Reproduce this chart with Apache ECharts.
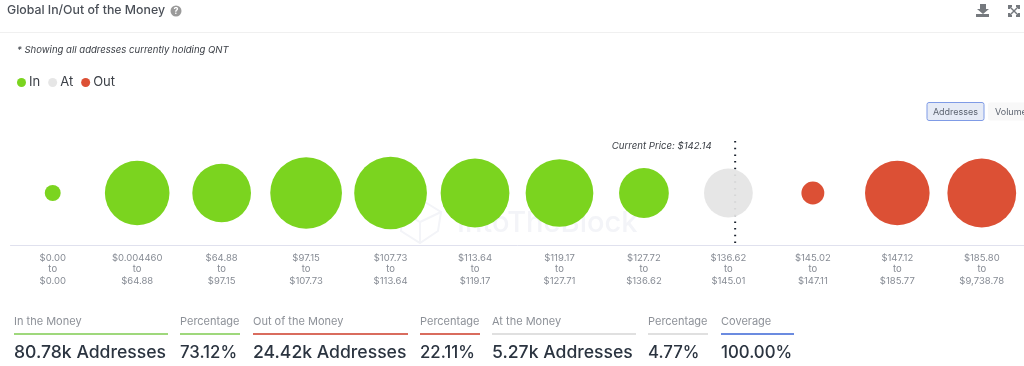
<!DOCTYPE html>
<html><head><meta charset="utf-8">
<style>html,body{margin:0;padding:0;background:#fff}#c{width:1024px;height:366px}</style>
<script src="https://cdn.jsdelivr.net/npm/echarts@6/dist/echarts.min.js"></script></head>
<body><div id="c"></div>
<script>
const rangeLow = ['$0.00','$0.004460','$64.88','$97.15','$107.73','$113.64','$119.17','$127.72','$136.62','$145.02','$147.12','$185.80'];
const rangeHigh = ['$0.00','$64.88','$97.15','$107.73','$113.64','$119.17','$127.71','$136.62','$145.01','$147.11','$185.77','$9,738.78'];
// estimated thousands of addresses per price bucket (null = not in that group)
const inValues = [0.68,11.2,9.25,13.8,14.2,12.7,12.3,6.65,null,null,null,null];
const atValues = [null,null,null,null,null,null,null,null,6.39,null,null,null];
const outValues = [null,null,null,null,null,null,null,null,null,1.41,11.2,12.7];
const currentPricePosition = 8.58;
const currentPriceLabel = 'Current Price: $142.14';
const statLabels = ['In the Money','Percentage','Out of the Money','Percentage','At the Money','Percentage','Coverage'];
const statValues = ['80.78k Addresses','73.12%','24.42k Addresses','22.11%','5.27k Addresses','4.77%','100.00%'];

const FONT = 'Inter, "Noto Sans", sans-serif';
const categories = rangeLow.map((l,i)=>l+'\nto\n'+rangeHigh[i]);
const statX = [14,180,253,420,492,648,721];
const statW = [154,60,155,60,144,60,73];
const statC = ['#9fd87c','#9fd87c','#d96c5e','#d96c5e','#e0e0e0','#e0e0e0','#6b8be0'];
const toPts = a => a.map((v,i)=> v==null ? null : [i,1,v]).filter(Boolean);
const sizeFn = d => Math.sqrt(d[2])*19.3;
const bubble = (name,vals,color,z) => ({name,type:'scatter',xAxisIndex:0,yAxisIndex:0,data:toPts(vals),
  symbolSize:sizeFn,z,itemStyle:{color,opacity:1},emphasis:{disabled:true}});
const WM = '#f3f4f8';
const graphic = [
  {type:'text',x:7,y:10,style:{text:'Global In/Out of the Money',font:'500 12.3px '+FONT,fill:'#4a4f57',verticalAlign:'middle'}},
  {type:'circle',shape:{cx:176,cy:11,r:5.5},style:{fill:'#9a9a9a'}},
  {type:'text',x:176,y:11,style:{text:'?',font:'bold 9px '+FONT,fill:'#fff',align:'center',verticalAlign:'middle'}},
  {type:'line',shape:{x1:0,y1:32.5,x2:1024,y2:32.5},style:{stroke:'#f0f0f0',lineWidth:1}},
  {type:'polygon',shape:{points:[[980,4],[986,4],[986,9],[989,9],[983,14],[977,9],[980,9]]},style:{fill:'#75797e'}},
  {type:'rect',shape:{x:976,y:14,width:13,height:3},style:{fill:'#75797e'}},
  {type:'polyline',shape:{points:[[1009,9],[1009,6],[1012,6]]},style:{stroke:'#75797e',lineWidth:2,fill:null}},
  {type:'polyline',shape:{points:[[1016,6],[1019,6],[1019,9]]},style:{stroke:'#75797e',lineWidth:2,fill:null}},
  {type:'polyline',shape:{points:[[1009,13],[1009,16],[1012,16]]},style:{stroke:'#75797e',lineWidth:2,fill:null}},
  {type:'polyline',shape:{points:[[1016,16],[1019,16],[1019,13]]},style:{stroke:'#75797e',lineWidth:2,fill:null}},
  {type:'line',shape:{x1:1010,y1:7,x2:1018,y2:15},style:{stroke:'#75797e',lineWidth:1.5}},
  {type:'line',shape:{x1:1018,y1:7,x2:1010,y2:15},style:{stroke:'#75797e',lineWidth:1.5}},
  {type:'text',x:17,y:50.5,style:{text:'* Showing all addresses currently holding QNT',font:'italic 9.55px '+FONT,fill:'#3c4047',verticalAlign:'middle'}},
  {type:'rect',shape:{x:927,y:102.5,width:57,height:18,r:2},style:{fill:'#e6ebf6',stroke:'#7f9be6',lineWidth:1}},
  {type:'text',x:955.5,y:112,style:{text:'Addresses',font:'9px '+FONT,fill:'#5d6470',align:'center',verticalAlign:'middle'}},
  {type:'rect',shape:{x:988,y:102.5,width:50,height:18,r:2},style:{fill:'#f8f8f8'}},
  {type:'text',x:995,y:112,style:{text:'Volume',font:'9px '+FONT,fill:'#5d6470',verticalAlign:'middle'}},
  {type:'text',z:-1,x:457,y:223,style:{text:'IntoTheBlock',font:'500 29px '+FONT,fill:WM,verticalAlign:'middle'}},
  {type:'polygon',z:-1,shape:{points:[[420,199],[441,212],[438,231],[420,243],[401,231],[403,212]]},style:{fill:null,stroke:WM,lineWidth:2}},
  {type:'polyline',z:-1,shape:{points:[[403,212],[420,222],[441,212]]},style:{fill:null,stroke:WM,lineWidth:2}},
  {type:'line',z:-1,shape:{x1:420,y1:222,x2:420,y2:243},style:{stroke:WM,lineWidth:2}}
];
statLabels.forEach((t,i)=>{
  const long = statValues[i].indexOf('Addresses')>=0;
  graphic.push({type:'text',x:statX[i],y:321.5,style:{text:t,font:'11px '+FONT,fill:'#8d9198',verticalAlign:'middle'}});
  graphic.push({type:'rect',shape:{x:statX[i],y:333,width:statW[i],height:2},style:{fill:statC[i]}});
  graphic.push({type:'text',x:statX[i],y:352.5,style:{text:statValues[i],font:'500 '+(long?17.6:16.8)+'px '+FONT,fill:'#2b3440',verticalAlign:'middle'}});
});

const chart = echarts.init(document.getElementById('c'),null,{renderer:'canvas'});
chart.setOption({
  animation:false,
  textStyle:{fontFamily:FONT},
  legend:{left:12,top:71,icon:'circle',itemWidth:9,itemHeight:9,itemGap:8,selectedMode:false,
    data:['In','At','Out'],textStyle:{fontSize:13,color:'#3c4047',fontFamily:FONT,padding:[0,0,0,-2]}},
  grid:{left:10.5,right:-0.5,top:141,bottom:121,containLabel:false},
  xAxis:[
    {type:'category',data:categories,boundaryGap:true,axisTick:{show:false},
     axisLine:{lineStyle:{color:'#e0e1ee',width:1}},splitLine:{show:false},
     axisLabel:{interval:0,hideOverlap:false,margin:7,fontSize:9.5,lineHeight:11.5,color:'#868b94',fontFamily:FONT}},
    {type:'value',min:0,max:12,show:false}
  ],
  yAxis:[{type:'value',min:0,max:2,show:false}],
  graphic,
  series:[
    {name:'Current Price',type:'line',xAxisIndex:1,yAxisIndex:0,z:1,silent:true,
     symbol:'circle',symbolSize:1,showSymbol:true,showAllSymbol:true,itemStyle:{color:'rgba(0,0,0,0)'},
     data:[{value:[currentPricePosition,2],
       label:{show:true,position:'left',distance:23,offset:[0,5],formatter:currentPriceLabel,
              fontStyle:'italic',fontSize:9.6,color:'#3c4047',fontFamily:FONT}},[currentPricePosition,0]],
     lineStyle:{color:'#1c2430',width:2,type:[1.5,5.2]}},
    bubble('In',inValues,'#7bd41f',3),
    {...bubble('At',atValues,'#e4e4e4',3),itemStyle:{color:'#e4e4e4',opacity:0.93}},
    bubble('Out',outValues,'#dc5035',3)
  ]
});
</script></body></html>
